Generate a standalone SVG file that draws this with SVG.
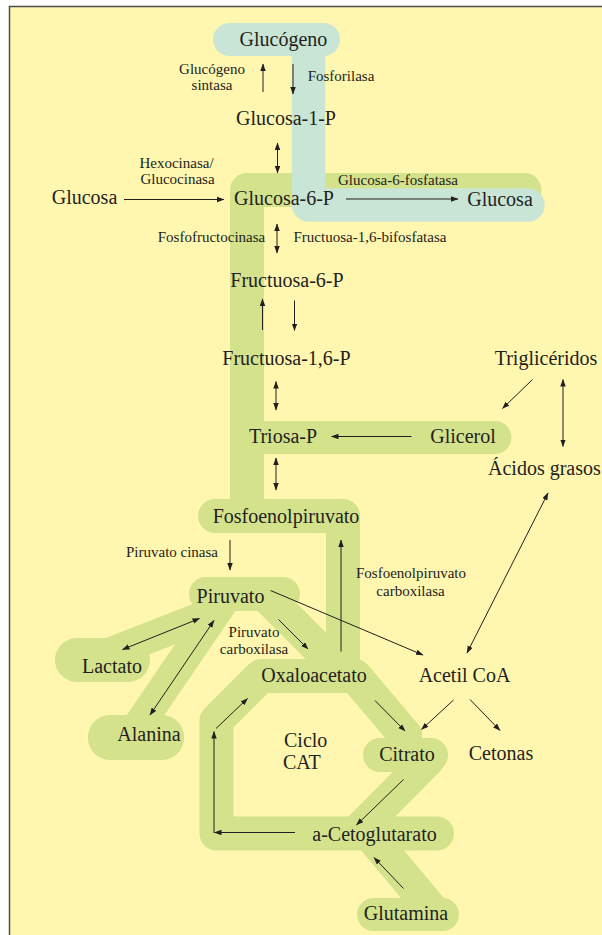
<svg xmlns="http://www.w3.org/2000/svg" width="602" height="935" viewBox="0 0 602 935">
<defs>
<marker id="ah" markerUnits="userSpaceOnUse" markerWidth="8" markerHeight="6" refX="7" refY="2.75" orient="auto-start-reverse">
<path d="M0,0 L7.5,2.75 L0,5.5 z" fill="#231f20"/>
</marker>
<style>
.g{fill:none;stroke:#d4e28b;stroke-linecap:round;stroke-linejoin:round}
.gf{fill:#d4e28b}
.b{fill:none;stroke:#c8e5d6;stroke-linecap:round;stroke-linejoin:round}
.bf{fill:#c8e5d6}
text{font-family:"Liberation Serif","Times New Roman",serif;fill:#231f20}
.L{font-size:20px;text-anchor:middle}
.S{font-size:15px;text-anchor:middle}
.c line,.c path{stroke:#231f20;stroke-width:1;fill:none}
.e{marker-end:url(#ah)}
.d{marker-start:url(#ah);marker-end:url(#ah)}
</style>
</defs>
<rect x="9" y="6" width="600" height="935" fill="#fff6af"/>
<path d="M9.5,935 L9.5,6.5 L602,6.5" fill="none" stroke="#4d4d4d" stroke-width="1.5"/>

<g id="highlights">
<path class="g" stroke-width="34" d="M524.5,190 L247,190 L247,516"/>
<path class="g" stroke-width="34" d="M215,516 L343,516 L343,676"/>
<path class="g" stroke-width="33" d="M247,437.5 L495,437.5"/>
<path class="g" stroke-width="31" d="M100,657 L215,612"/>
<path class="g" stroke-width="31" d="M130,738 L224,600"/>
<path class="g" stroke-width="33" d="M265,595 L335,665"/>
<path class="g" stroke-width="34" d="M405,735 L355,676 L261,676 L216.5,720.5 L216.5,833.5 L437,833.5"/>
<path class="g" stroke-width="33" d="M428,760 L355,833.5"/>
<path class="g" stroke-width="33" d="M368,833 L435,913"/>
<rect class="gf" x="189" y="577" width="111" height="34" rx="17"/>
<rect class="gf" x="55" y="638" width="95" height="44" rx="22"/>
<rect class="gf" x="88" y="715" width="96" height="45" rx="22"/>
<rect class="gf" x="363" y="738" width="85" height="34" rx="17"/>
<rect class="gf" x="357" y="898" width="102" height="33" rx="16.5"/>
<path class="b" stroke-width="33.5" d="M308.5,40 L308.5,205 L528,205"/>
<rect class="bf" x="213" y="23" width="127" height="33" rx="16.5"/>
</g>

<g id="connectors" class="c">
<line class="e" x1="263" y1="92" x2="263" y2="64"/>
<line class="e" x1="293" y1="64" x2="293" y2="94"/>
<line class="d" x1="277.5" y1="143" x2="277.5" y2="173"/>
<line class="e" x1="124" y1="199.5" x2="224" y2="199.5"/>
<line class="e" x1="346" y1="199" x2="458" y2="199"/>
<line class="d" x1="277" y1="224" x2="277" y2="253"/>
<line class="e" x1="262.5" y1="330" x2="262.5" y2="299"/>
<line class="e" x1="294.5" y1="300.5" x2="294.5" y2="330.5"/>
<line class="d" x1="276" y1="381.5" x2="276" y2="410"/>
<line class="e" x1="532.5" y1="379.5" x2="502.5" y2="408.5"/>
<line class="d" x1="563" y1="379.5" x2="563" y2="446.5"/>
<line class="e" x1="411.5" y1="436.5" x2="331.5" y2="436.5"/>
<line class="d" x1="276" y1="458" x2="276" y2="490"/>
<line class="e" x1="230" y1="540" x2="230" y2="570"/>
<line class="e" x1="341" y1="651.5" x2="341" y2="540"/>
<line class="e" x1="270.5" y1="590.5" x2="423" y2="655"/>
<line class="e" x1="278.5" y1="619.5" x2="308" y2="649"/>
<line class="d" x1="122.5" y1="649.5" x2="199.5" y2="618.5"/>
<line class="d" x1="150" y1="715" x2="214" y2="620.5"/>
<line class="d" x1="467" y1="653" x2="548" y2="493"/>
<line class="e" x1="375" y1="700.5" x2="405" y2="731"/>
<line class="e" x1="453.5" y1="700" x2="421.5" y2="729.5"/>
<line class="e" x1="470" y1="699.5" x2="500" y2="730.5"/>
<line class="e" x1="403.5" y1="779.5" x2="356.5" y2="825"/>
<line class="e" x1="295" y1="832.5" x2="214.5" y2="832.5"/>
<line class="e" x1="214" y1="833" x2="214" y2="731.5"/>
<line class="e" x1="216" y1="728.5" x2="247.5" y2="698.5"/>
<line class="e" x1="403.5" y1="888.5" x2="374" y2="857.5"/>
</g>

<g id="n-glucogeno"><text class="L" x="283.5" y="46">Glucógeno</text></g>
<g id="e-glucogeno-sintasa"><text class="S" x="212" y="73.5">Glucógeno</text><text class="S" x="212" y="89.5">sintasa</text></g>
<g id="e-fosforilasa"><text class="S" x="341" y="81">Fosforilasa</text></g>
<g id="n-glucosa1p"><text class="L" x="286" y="125">Glucosa-1-P</text></g>
<g id="e-hexocinasa"><text class="S" x="176.5" y="167.5">Hexocinasa/</text><text class="S" x="177.5" y="184">Glucocinasa</text></g>
<g id="n-glucosa-in"><text class="L" x="84.5" y="204">Glucosa</text></g>
<g id="n-glucosa6p"><text class="L" x="284" y="205">Glucosa-6-P</text></g>
<g id="e-g6fosfatasa"><text class="S" x="398" y="185">Glucosa-6-fosfatasa</text></g>
<g id="n-glucosa-out"><text class="L" x="500" y="206">Glucosa</text></g>
<g id="e-pfk"><text class="S" x="211.5" y="241.5">Fosfofructocinasa</text></g>
<g id="e-fbpasa"><text class="S" x="293.5" y="241.5" style="text-anchor:start">Fructuosa-1,6-bifosfatasa</text></g>
<g id="n-fructuosa6p"><text class="L" x="287" y="287">Fructuosa-6-P</text></g>
<g id="n-fructuosa16p"><text class="L" x="286.5" y="365">Fructuosa-1,6-P</text></g>
<g id="n-trigliceridos"><text class="L" x="546" y="365">Triglicéridos</text></g>
<g id="n-triosap"><text class="L" x="283" y="443">Triosa-P</text></g>
<g id="n-glicerol"><text class="L" x="463" y="443">Glicerol</text></g>
<g id="n-acidos-grasos"><text class="L" x="488" y="475" style="text-anchor:start">Ácidos grasos</text></g>
<g id="n-pep"><text class="L" x="286" y="523">Fosfoenolpiruvato</text></g>
<g id="e-piruvato-cinasa"><text class="S" x="172" y="557">Piruvato cinasa</text></g>
<g id="e-pepck"><text class="S" x="411" y="578">Fosfoenolpiruvato</text><text class="S" x="410.5" y="596">carboxilasa</text></g>
<g id="n-piruvato"><text class="L" x="230.5" y="603">Piruvato</text></g>
<g id="e-piruvato-carboxilasa"><text class="S" x="254" y="637">Piruvato</text><text class="S" x="254" y="654">carboxilasa</text></g>
<g id="n-lactato"><text class="L" x="112" y="673">Lactato</text></g>
<g id="n-oxaloacetato"><text class="L" x="314" y="682">Oxaloacetato</text></g>
<g id="n-acetilcoa"><text class="L" x="464.5" y="682">Acetil CoA</text></g>
<g id="n-alanina"><text class="L" x="149" y="741">Alanina</text></g>
<g id="n-ciclo"><text x="284" y="747" style="font-size:20px">Ciclo</text><text x="283" y="769" style="font-size:20px">CAT</text></g>
<g id="n-citrato"><text class="L" x="407" y="761">Citrato</text></g>
<g id="n-cetonas"><text class="L" x="501" y="760">Cetonas</text></g>
<g id="n-acetoglutarato"><text class="L" x="374.5" y="841">a-Cetoglutarato</text></g>
<g id="n-glutamina"><text class="L" x="406" y="919.5">Glutamina</text></g>
</svg>
